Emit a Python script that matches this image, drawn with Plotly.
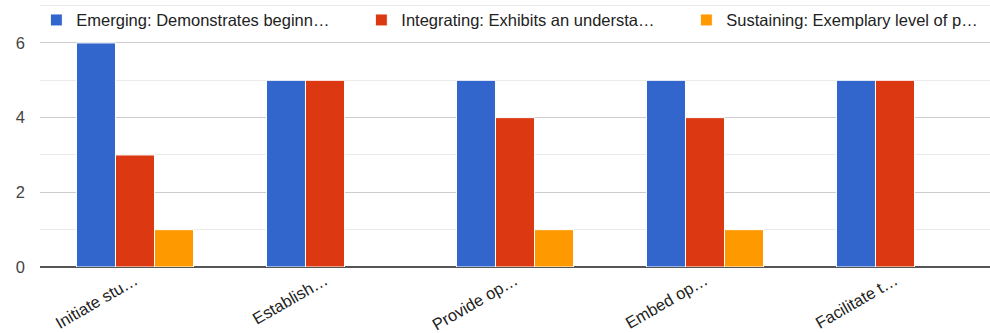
import plotly.graph_objects as go

categories = ["Initiate stu…", "Establish…", "Provide op…", "Embed op…", "Facilitate t…"]
series_names = [
    "Emerging: Demonstrates beginn…",
    "Integrating: Exhibits an understa…",
    "Sustaining: Exemplary level of p…",
]
emerging = [6, 5, 5, 5, 5]
integrating = [3, 5, 4, 4, 5]
sustaining = [1, None, 1, 1, None]
colors = ["#3366cc", "#dc3912", "#ff9900"]

fig = go.Figure()
for name, vals, col in zip(series_names, [emerging, integrating, sustaining], colors):
    fig.add_trace(go.Bar(
        x=categories, y=vals, name=name,
        marker=dict(color=col, line=dict(color="white", width=1)),
    ))

FS = 16.5
fig.update_layout(
    width=990, height=333,
    margin=dict(l=40, r=0, t=0, b=66, autoexpand=False),
    paper_bgcolor="white", plot_bgcolor="white",
    barmode="group", bargap=0.384, bargroupgap=0,
    font=dict(family="Liberation Sans, Arial, sans-serif", size=FS, color="#222"),
    showlegend=True,
    legend=dict(
        orientation="h", x=-0.007, y=1.001, xanchor="left", yanchor="top",
        entrywidth=280, entrywidthmode="pixels",
        font=dict(size=FS, color="#222"),
        bgcolor="rgba(0,0,0,0)", borderwidth=3, bordercolor="rgba(0,0,0,0)",
        itemwidth=30, tracegroupgap=0,
    ),
    xaxis=dict(
        tickangle=-30, tickfont=dict(size=FS, color="#222"),
        showgrid=False, showline=False, ticks="",
    ),
    yaxis=dict(
        range=[0, 7.15], tickvals=[0, 2, 4, 6], showgrid=True,
        gridcolor="#cccccc", gridwidth=1,
        zeroline=True, zerolinecolor="#555555", zerolinewidth=1.5,
        tickfont=dict(size=FS, color="#444"), ticks="",
        ticklabelstandoff=14,
        minor=dict(tickvals=[1, 3, 5, 7], showgrid=True, gridcolor="#ebebeb", gridwidth=1),
    ),
)

fig.write_html("out.html")
